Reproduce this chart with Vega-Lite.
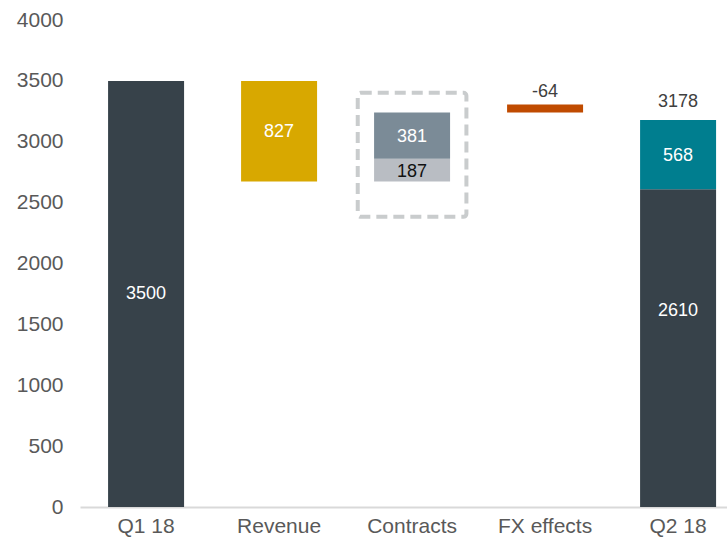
{
  "$schema": "https://vega.github.io/schema/vega-lite/v6.json",
  "width": 647,
  "height": 487,
  "autosize": "none",
  "padding": {"left": 80, "top": 20, "right": 0, "bottom": 34},
  "config": {"view": {"stroke": null}, "font": "Liberation Sans"},
  "datasets": {
    "bars": [
      {"cat": "Q1 18", "seg": "Q1 total", "y": 0, "y2": 3500, "label": "3500", "ly": 1750},
      {"cat": "Revenue", "seg": "Revenue", "y": 2673, "y2": 3500, "label": "827", "ly": 3076},
      {"cat": "Contracts", "seg": "Contracts base", "y": 2673, "y2": 2860, "label": "187", "ly": 2750},
      {"cat": "Contracts", "seg": "Contracts top", "y": 2860, "y2": 3241, "label": "381", "ly": 3040},
      {"cat": "FX effects", "seg": "FX", "y": 3241, "y2": 3305, "label": "-64", "ly": 3305},
      {"cat": "Q2 18", "seg": "Q2 base", "y": 0, "y2": 2610, "label": "2610", "ly": 1610},
      {"cat": "Q2 18", "seg": "Q2 change", "y": 2610, "y2": 3178, "label": "568", "ly": 2884}
    ],
    "tops": [
      {"cat": "FX effects", "v": 3305, "label": "-64"},
      {"cat": "Q2 18", "v": 3178, "label": "3178"}
    ],
    "box": [
      {"cat": "Contracts", "y": 2383, "y2": 3402}
    ]
  },
  "encoding": {
    "x": {
      "field": "cat",
      "type": "nominal",
      "sort": ["Q1 18", "Revenue", "Contracts", "FX effects", "Q2 18"],
      "scale": {"paddingInner": 0.4286, "paddingOuter": 0.1466, "align": 0.72},
      "axis": {
        "title": null,
        "ticks": false,
        "labelAngle": 0,
        "labelFontSize": 21,
        "labelColor": "#595959",
        "labelPadding": 8,
        "domainColor": "#d9d9d9",
        "domainWidth": 2
      }
    }
  },
  "layer": [
    {
      "data": {"name": "bars"},
      "mark": {"type": "bar"},
      "encoding": {
        "y": {
          "field": "y",
          "type": "quantitative",
          "scale": {"domain": [0, 4000], "nice": false},
          "axis": {
            "title": null,
            "values": [0, 500, 1000, 1500, 2000, 2500, 3000, 3500, 4000],
            "format": "d",
            "grid": false,
            "ticks": false,
            "domain": false,
            "labelFontSize": 21,
            "labelColor": "#595959",
            "labelPadding": 17
          }
        },
        "y2": {"field": "y2"},
        "color": {
          "field": "seg",
          "type": "nominal",
          "scale": {
            "domain": ["Q1 total", "Revenue", "Contracts base", "Contracts top", "FX", "Q2 base", "Q2 change"],
            "range": ["#37424a", "#d8a800", "#b9bdc3", "#7b8b97", "#c04b00", "#37424a", "#007e8f"]
          },
          "legend": null
        }
      }
    },
    {
      "data": {"name": "box"},
      "mark": {
        "type": "bar",
        "width": {"band": 1.43},
        "fill": null,
        "fillOpacity": 0,
        "stroke": "#c9cccd",
        "strokeWidth": 4,
        "strokeDash": [11, 6],
        "cornerRadius": 3
      },
      "encoding": {
        "y": {"field": "y", "type": "quantitative"},
        "y2": {"field": "y2"}
      }
    },
    {
      "data": {"name": "bars"},
      "transform": [{"filter": "datum.seg != 'FX'"}],
      "mark": {"type": "text", "fontSize": 18, "baseline": "middle", "align": "center"},
      "encoding": {
        "y": {"field": "ly", "type": "quantitative"},
        "text": {"field": "label"},
        "color": {
          "condition": {"test": "datum.seg == 'Contracts base'", "value": "#111111"},
          "value": "#ffffff"
        }
      }
    },
    {
      "data": {"name": "tops"},
      "transform": [{"filter": "datum.cat == 'FX effects'"}],
      "mark": {"type": "text", "fontSize": 18, "baseline": "alphabetic", "align": "center", "dy": -8, "color": "#404040"},
      "encoding": {
        "y": {"field": "v", "type": "quantitative"},
        "text": {"field": "label"}
      }
    },
    {
      "data": {"name": "tops"},
      "transform": [{"filter": "datum.cat == 'Q2 18'"}],
      "mark": {"type": "text", "fontSize": 18, "baseline": "alphabetic", "align": "center", "dy": -13, "color": "#404040"},
      "encoding": {
        "y": {"field": "v", "type": "quantitative"},
        "text": {"field": "label"}
      }
    }
  ]
}
